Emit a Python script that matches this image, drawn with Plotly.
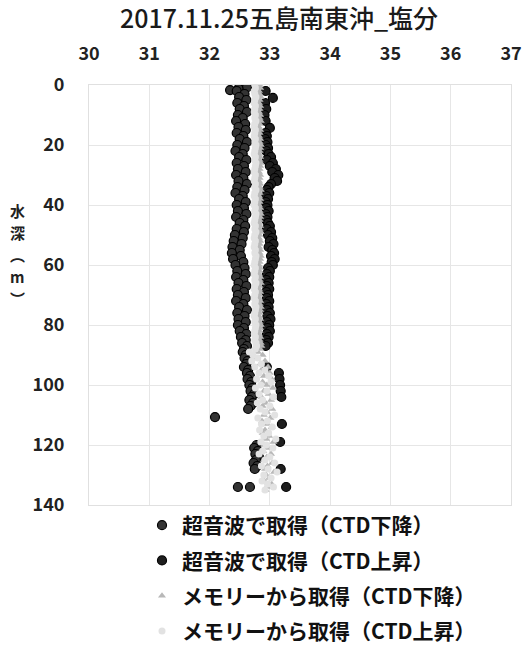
import plotly.graph_objects as go

# ---- Salinity profiles, 2017-11-25, off south-east Goto ----
# Ultrasonic telemetry, CTD descending
us_down_depth = [0.5, 0.8, 1.2, 1.7,
                 2, 3, 4, 5, 6, 7, 8, 9, 10, 11, 12, 13, 14, 15, 16, 17, 18, 19,
                 20, 21, 22, 23, 24, 25, 26, 27, 28, 29, 30, 31, 32, 33, 34, 35, 36, 37,
                 38, 39, 40, 41, 42, 43, 44, 45, 46, 47, 48, 49, 50, 51, 52, 53, 54, 55,
                 56, 57, 58, 59, 60, 61, 62, 63, 64, 65, 66, 67, 68, 69, 70, 71, 72, 73,
                 74, 75, 76, 77, 78, 79, 80, 81, 82, 83, 84, 85, 86, 87, 88,
                 89, 90, 91, 92, 93, 94, 95, 96, 97, 98, 99, 100, 101, 102, 103, 104,
                 105, 106, 107, 108, 110.7,
                 120, 121, 122, 123, 124, 125, 126, 127, 128, 134, 134]
us_down_sal = [32.55, 32.62, 32.48, 32.34,
               32.45, 32.58, 32.49, 32.61, 32.46, 32.57, 32.50, 32.62, 32.47, 32.55, 32.44, 32.59,
               32.48, 32.60, 32.45, 32.56, 32.50, 32.62, 32.46, 32.58, 32.43, 32.55, 32.49, 32.61,
               32.45, 32.57, 32.47, 32.60, 32.44, 32.56, 32.48, 32.62, 32.46, 32.58, 32.43, 32.55,
               32.49, 32.60, 32.45, 32.57, 32.47, 32.61, 32.44, 32.56, 32.50, 32.59, 32.45, 32.57,
               32.42, 32.55, 32.40, 32.53, 32.38, 32.50, 32.37, 32.52, 32.39, 32.56, 32.43, 32.58,
               32.46, 32.60, 32.44, 32.56, 32.48, 32.61, 32.45, 32.57, 32.47, 32.60, 32.44, 32.56,
               32.49, 32.62, 32.46, 32.58, 32.48, 32.60, 32.47, 32.57, 32.50, 32.61, 32.52, 32.60,
               32.54, 32.62, 32.57,
               32.55, 32.60, 32.58, 32.63, 32.61, 32.57, 32.64, 32.62, 32.67, 32.63, 32.69, 32.66,
               32.71, 32.68, 32.74, 32.70, 32.66, 32.72, 32.68, 32.64, 32.09,
               32.78, 32.74, 32.80, 32.76, 32.82, 32.77, 32.73, 32.79, 32.75, 32.47, 32.67]

# Ultrasonic telemetry, CTD ascending
us_up_depth = [2, 4.3, 6, 8, 10, 12, 14.3, 16, 17, 18, 19,
               20, 21, 22, 23, 24, 25, 26, 27, 28, 29, 30, 31, 32, 33, 34, 35, 36, 37,
               38, 39, 40, 41, 42, 43, 44, 45, 46, 47, 48, 49, 50, 51, 52, 53, 54, 55,
               56, 57, 58, 59, 60, 61, 62, 63, 64, 65, 66, 67, 68, 69, 70, 71, 72, 73,
               74, 75, 76, 77, 78, 79, 80, 81, 82, 83, 84, 85, 86, 87,
               94, 96, 98, 100, 102, 104, 113, 119, 128, 134]
us_up_sal = [32.93, 33.05, 32.92, 32.94, 32.91, 32.93,
             33.00, 32.93, 32.95, 32.92, 32.96, 32.93, 32.97, 32.94, 32.98, 33.02, 32.95, 33.05,
             33.00, 33.10, 33.04, 33.14, 33.08, 33.12, 33.02, 32.98, 32.95, 32.99, 32.94, 32.97,
             32.93, 32.96, 32.94, 32.98, 32.93, 32.96, 32.94, 32.97, 33.00, 32.95, 33.02, 32.97,
             33.04, 33.00, 33.06, 32.98, 33.04, 33.07, 33.02, 33.08, 33.03, 33.05, 32.97, 33.00,
             32.95, 32.99, 32.94, 32.98, 32.95, 32.99, 32.94, 32.97, 32.95, 32.99, 32.94, 32.98,
             32.95, 33.00, 32.96, 33.01, 32.95, 32.99, 32.96, 33.00, 32.95, 32.98, 32.94, 32.97,
             32.93, 32.95,
             33.15, 33.16, 33.17, 33.18, 33.19, 33.20, 33.17, 33.18, 33.27, 33.20]

# Logger memory, CTD descending (1 m bins, 0-135 m)
mem_depth = list(range(0, 136))
mem_down_sal = [32.83, 32.84, 32.82, 32.83, 32.85, 32.83, 32.82, 32.84, 32.83, 32.82,
                32.84, 32.83, 32.85, 32.83, 32.82, 32.84, 32.83, 32.82, 32.84, 32.83,
                32.85, 32.84, 32.83, 32.82, 32.84, 32.83, 32.85, 32.84, 32.83, 32.82,
                32.84, 32.83, 32.82, 32.84, 32.83, 32.85, 32.83, 32.82, 32.84, 32.83,
                32.82, 32.84, 32.83, 32.85, 32.84, 32.83, 32.82, 32.84, 32.83, 32.85,
                32.83, 32.82, 32.84, 32.83, 32.82, 32.84, 32.83, 32.85, 32.84, 32.83,
                32.82, 32.84, 32.83, 32.82, 32.84, 32.83, 32.85, 32.83, 32.82, 32.84,
                32.83, 32.82, 32.84, 32.83, 32.85, 32.84, 32.83, 32.82, 32.84, 32.83,
                32.85, 32.84, 32.83, 32.82, 32.84, 32.83, 32.85, 32.86, 32.84,
                32.80, 32.88, 32.76, 32.92, 32.84, 32.97, 32.86, 33.00, 32.90, 33.03,
                32.88, 32.95, 33.05, 32.90, 32.98, 32.86, 33.02, 32.93, 32.88, 33.04,
                32.95, 32.90, 33.01, 32.87, 32.96, 33.03, 32.92, 32.88, 32.99, 32.94,
                33.06, 32.91, 32.97, 32.89, 33.02, 32.95, 32.90, 33.04, 32.96, 32.92,
                33.07, 32.94, 32.99, 32.91, 33.03, 32.95, 32.93]

# Logger memory, CTD ascending (1 m bins, 0-135 m)
mem_up_sal = [32.75, 32.76, 32.74, 32.75, 32.77, 32.75, 32.74, 32.76, 32.75, 32.74,
              32.76, 32.75, 32.77, 32.75, 32.74, 32.76, 32.75, 32.74, 32.76, 32.75,
              32.77, 32.76, 32.75, 32.74, 32.76, 32.75, 32.77, 32.76, 32.75, 32.74,
              32.76, 32.75, 32.74, 32.76, 32.75, 32.77, 32.75, 32.74, 32.76, 32.75,
              32.74, 32.76, 32.75, 32.77, 32.76, 32.75, 32.74, 32.76, 32.75, 32.77,
              32.75, 32.74, 32.76, 32.75, 32.74, 32.76, 32.75, 32.77, 32.76, 32.75,
              32.74, 32.76, 32.75, 32.74, 32.76, 32.75, 32.77, 32.75, 32.74, 32.76,
              32.75, 32.74, 32.76, 32.75, 32.77, 32.76, 32.75, 32.74, 32.76, 32.75,
              32.77, 32.76, 32.75, 32.74, 32.76, 32.75, 32.77, 32.78, 32.76,
              32.66, 32.72, 32.80, 32.70, 32.86, 32.75, 32.92, 32.82, 32.98, 32.78,
              33.02, 32.85, 32.76, 32.95, 32.82, 33.06, 32.88, 32.79, 33.00, 32.84,
              32.92, 33.08, 32.80, 32.96, 32.86, 33.04, 32.83, 32.98, 32.90, 33.10,
              32.85, 32.94, 33.05, 32.88, 32.82, 33.00, 32.92, 33.08, 32.86, 32.97,
              33.12, 32.90, 33.02, 32.87, 32.96, 33.06, 32.92]

x_ticks = [30, 31, 32, 33, 34, 35, 36, 37]
y_ticks = [0, 20, 40, 60, 80, 100, 120, 140]

title_text = "2017.11.25五島南東沖_塩分"
y_title_chars = ["水", "深", "︵", "m", "︶"]
names = ["超音波で取得（CTD下降）", "超音波で取得（CTD上昇）",
         "メモリーから取得（CTD下降）", "メモリーから取得（CTD上昇）"]

FONT = "Noto Sans CJK JP"

fig = go.Figure()

fig.add_trace(go.Scatter(
    x=us_down_sal, y=us_down_depth, mode="markers", name=names[0], legendgroup="a",
    marker=dict(symbol="circle", size=9, color="#333333",
                line=dict(color="#000000", width=1.2)),
))
fig.add_trace(go.Scatter(
    x=us_up_sal, y=us_up_depth, mode="markers", name=names[1], legendgroup="b",
    marker=dict(symbol="circle", size=9, color="#1e1e1e",
                line=dict(color="#000000", width=1.2)),
))
fig.add_trace(go.Scatter(
    x=mem_down_sal, y=mem_depth, mode="markers", name=names[2], legendgroup="c",
    marker=dict(symbol="triangle-up", size=7, color="#b8b8b8",
                line=dict(color="#b8b8b8", width=0)),
))
fig.add_trace(go.Scatter(
    x=mem_up_sal, y=mem_depth, mode="markers", name=names[3], legendgroup="d",
    marker=dict(symbol="circle", size=7, color="#e2e2e2",
                line=dict(color="#e2e2e2", width=0)),
))

# stacked vertical axis title, one glyph per row
# (plot area spans x 89-511 px, y 85-505 px)
for i, ch in enumerate(y_title_chars):
    fig.add_annotation(
        text=ch, xref="paper", yref="paper",
        x=(17 - 89) / 422, y=(505 - (210 + 22 * i)) / 420,
        showarrow=False, xanchor="center", yanchor="middle",
        font=dict(family=FONT, size=15, color="#222222", weight="bold"),
    )

fig.update_layout(
    width=524, height=645,
    margin=dict(l=89, r=13, t=85, b=140, autoexpand=False),
    paper_bgcolor="white", plot_bgcolor="white",
    font=dict(family=FONT, color="#222222"),
    title=dict(text=title_text, x=279 / 524, xanchor="center",
               y=1 - 19 / 645, yanchor="middle", xref="container", yref="container",
               font=dict(family=FONT, size=25, color="#1a1a1a", weight=500)),
    showlegend=True,
    legend=dict(
        x=(142 - 89) / 422, xanchor="left",
        y=(505 - 505) / 420, yanchor="top",
        font=dict(family=FONT, size=21, color="#111111", weight="bold"),
        tracegroupgap=5, itemsizing="trace",
        bgcolor="rgba(0,0,0,0)",
    ),
    xaxis=dict(
        range=[30, 37], side="top", tickvals=x_ticks,
        showgrid=True, gridcolor="#e6e6e6", gridwidth=1,
        showline=True, linecolor="#e0e0e0", linewidth=1, mirror=True,
        zeroline=False, ticks="", ticklabelstandoff=17,
        tickfont=dict(family=FONT, size=18, color="#222222", weight="bold"),
    ),
    yaxis=dict(
        range=[140, 0], tickvals=y_ticks,
        showgrid=True, gridcolor="#e6e6e6", gridwidth=1,
        showline=True, linecolor="#e0e0e0", linewidth=1, mirror=True,
        zeroline=False, ticks="", ticklabelstandoff=20,
        tickfont=dict(family=FONT, size=18, color="#222222", weight="bold"),
    ),
)

fig.write_html("out.html")
